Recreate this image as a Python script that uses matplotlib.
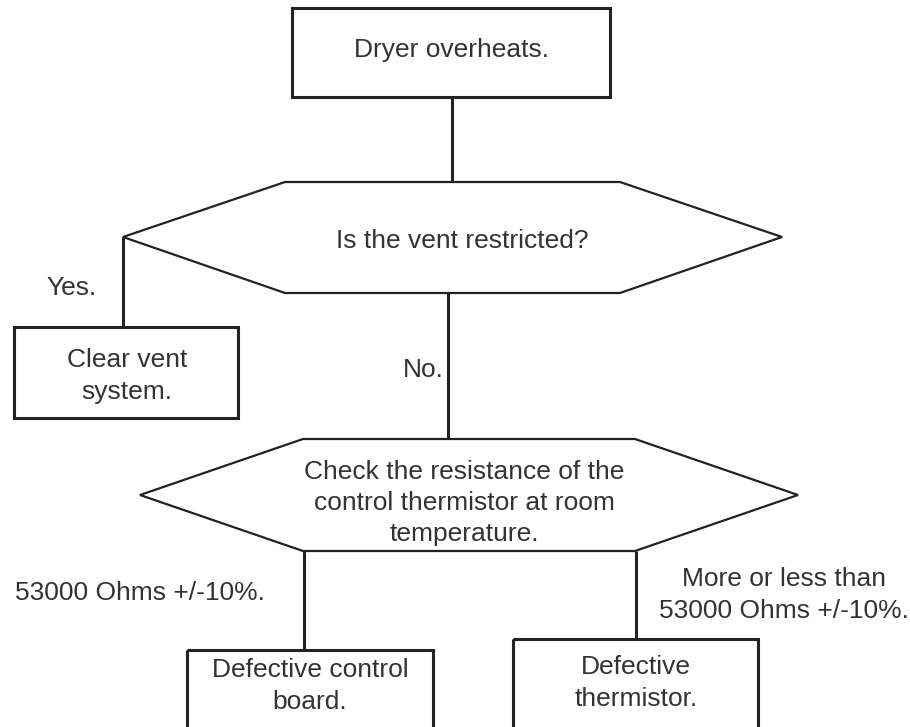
import matplotlib
matplotlib.use("Agg")
import matplotlib.pyplot as plt
from matplotlib.patches import Polygon, Rectangle

# flowchart text
box_labels = ["Dryer overheats.", "Clear vent\nsystem.",
              "Defective control\nboard.", "Defective\nthermistor."]
question_labels = ["Is the vent restricted?",
                   "Check the resistance of the\ncontrol thermistor at room\ntemperature."]
edge_labels = ["Yes.", "No.", "53000 Ohms +/-10%.",
               "More or less than\n53000 Ohms +/-10%."]

# geometry in pixels (x0, y0, x1, y1)
boxes = [(292, 8, 610, 97), (14, 327, 238, 418),
         (187, 650, 433, 745), (513, 639, 758, 745)]
box_text = [(452, 50), (127, 376), (310, 686), (636, 683)]
hexes = [(123, 285, 620, 782, 182, 237, 293),
         (140, 303, 635, 798, 439, 495, 551)]
hex_text = [(462, 241), (464, 503)]
links = [((452, 97), (452, 182)), ((123, 237), (123, 327)),
         ((448, 293), (448, 439)), ((304, 551), (304, 650)),
         ((636, 551), (636, 639))]
label_pos = [(72, 288), (423, 370), (140, 593), (784, 595)]

ink = "#222222"
txt = "#333333"
font = "Liberation Sans"
fs = 19

fig = plt.figure(figsize=(9.1, 7.27), dpi=100)
ax = fig.add_axes([0, 0, 1, 1])
ax.set_xlim(0, 910)
ax.set_ylim(727, 0)
ax.axis("off")

for (a, b) in links:
    ax.plot([a[0], b[0]], [a[1], b[1]], color=ink, lw=2.2, solid_capstyle="butt")

for (x0, y0, x1, y1) in boxes:
    ax.add_patch(Rectangle((x0, y0), x1 - x0, y1 - y0, fill=False,
                           ec=ink, lw=2.2, joinstyle="miter"))

for (xl, xa, xb, xr, yt, ym, yb) in hexes:
    pts = [(xl, ym), (xa, yt), (xb, yt), (xr, ym), (xb, yb), (xa, yb)]
    ax.add_patch(Polygon(pts, closed=True, fill=False, ec=ink, lw=1.6))

for s, (x, y) in zip(box_labels + question_labels + edge_labels,
                     box_text + hex_text + label_pos):
    ax.text(x, y, s, ha="center", va="center", fontsize=fs, family=font,
            color=txt, linespacing=1.38)

fig.savefig("out.png", dpi=100)
